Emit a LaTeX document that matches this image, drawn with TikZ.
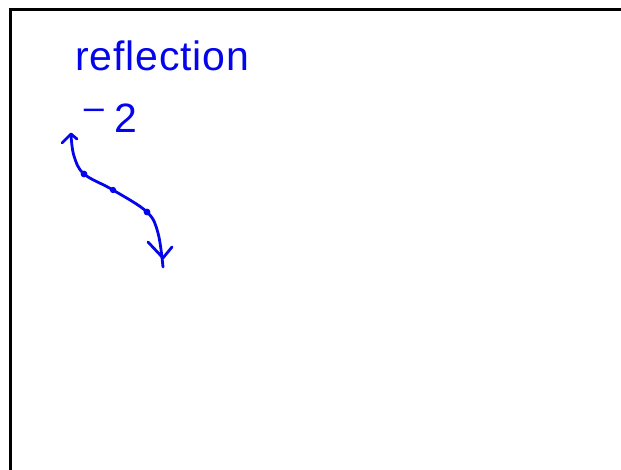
\documentclass[tikz,border=0pt]{standalone}
\usepackage{fontspec}
\setmainfont{Liberation Sans}
\definecolor{ink}{RGB}{5,5,235}
\begin{document}
\begin{tikzpicture}[x=1pt,y=-1pt,
  pen/.style={draw=ink,line width=2.8pt,line cap=round,line join=round},
  hand/.style={text=ink,inner sep=0pt,font=\fontsize{41}{41}\selectfont}]
\useasboundingbox (0,0) rectangle (621,470);
\begin{scope}
\clip (0,0) rectangle (621,470);
\draw[line width=3pt,black] (10,10) rectangle (640,490);
\end{scope}
\node[hand,anchor=base west,font=\fontsize{41}{41}\selectfont\addfontfeature{LetterSpace=2}] (title) at (75,71) {reflection};
\node[hand,anchor=center,font=\fontsize{36}{36}\selectfont] (minus) at (94,114) {\textendash};
\node[hand,anchor=base west] (two) at (114,133) {2};
% curve
\draw[pen] plot[smooth,tension=0.6] coordinates {(71,135) (74,156) (84,174) (113,190) (147,212) (158,233) (163,267)};
\coordinate (topTip) at (71,134);
\coordinate (botTip) at (163,258);
\draw[pen] (62,143) -- (topTip) -- (77,139);
\draw[pen] (148,242) -- (botTip) -- (172,247);
\fill[ink] (84,174) circle (3.4);
\draw[ink,line width=1.6pt] (113,190) circle (2.3);
\fill[ink] (147,212) circle (3.4);
\end{tikzpicture}
\end{document}
